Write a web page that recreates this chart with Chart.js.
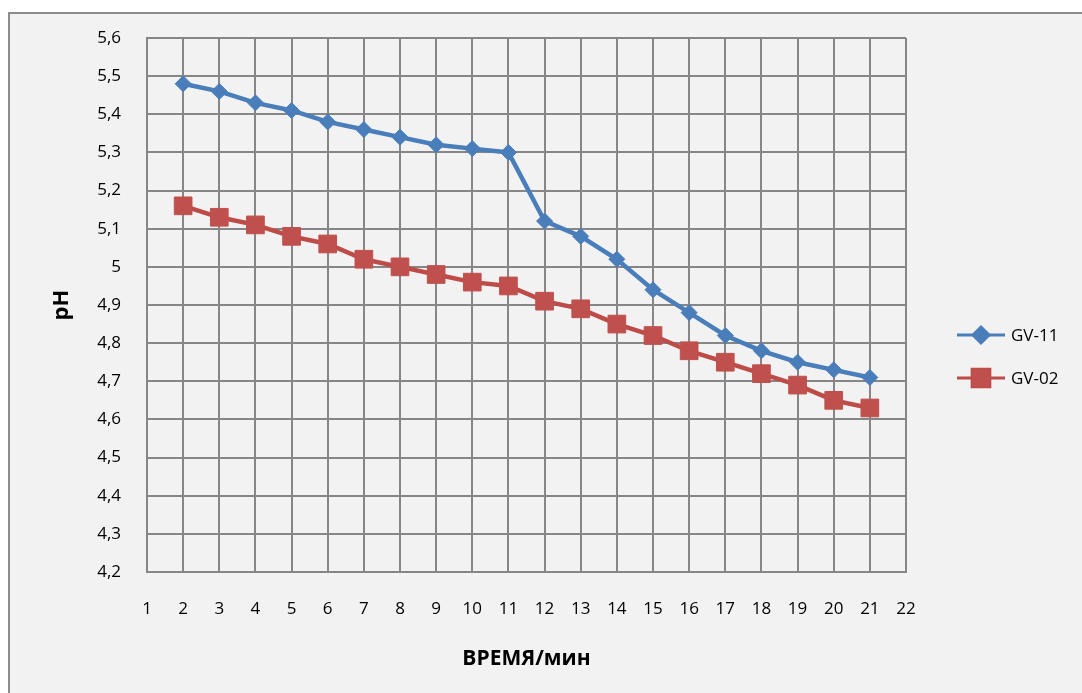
<!DOCTYPE html>
<html>
<head>
<meta charset="utf-8">
<script src="https://cdn.jsdelivr.net/npm/chart.js@4/dist/chart.umd.min.js"></script>
<style>
html,body{margin:0;padding:0;background:#ffffff;}
#wrap{position:relative;width:1082px;height:693px;}
</style>
</head>
<body>
<div id="wrap"><canvas id="c" width="1082" height="693"></canvas></div>
<script>
// ---- data ----
const times = [2,3,4,5,6,7,8,9,10,11,12,13,14,15,16,17,18,19,20,21];
const gv11 = [5.48,5.46,5.43,5.41,5.38,5.36,5.34,5.32,5.31,5.30,5.12,5.08,5.02,4.94,4.88,4.82,4.78,4.75,4.73,4.71];
const gv02 = [5.16,5.13,5.11,5.08,5.06,5.02,5.00,4.98,4.96,4.95,4.91,4.89,4.85,4.82,4.78,4.75,4.72,4.69,4.65,4.63];
const seriesNames = ['GV-11','GV-02'];
const xTitle = 'ВРЕМЯ/мин';
const yTitle = 'pH';
const xMin = 1, xMax = 22;
const yMin = 4.2, yMax = 5.6;

const FONT = "'Open Sans', 'Liberation Sans', sans-serif";
const BLUE = '#4a7ebb';
const RED = '#be4b48';
const GRID = '#868686';

const toPts = (xs, ys) => xs.map((x, i) => ({x: x, y: ys[i]}));

const bgPlugin = {
  id: 'bg',
  beforeDraw(chart) {
    const ctx = chart.ctx;
    ctx.save();
    ctx.fillStyle = '#ffffff';
    ctx.fillRect(0, 0, chart.width, chart.height);
    ctx.fillStyle = '#f2f2f2';
    ctx.fillRect(9, 13, chart.width, chart.height);
    ctx.strokeStyle = '#8c8c8c';
    ctx.lineWidth = 2;
    ctx.beginPath();
    ctx.moveTo(9, chart.height + 5);
    ctx.lineTo(9, 13);
    ctx.lineTo(chart.width + 5, 13);
    ctx.stroke();
    ctx.restore();
  }
};

const legendPlugin = {
  id: 'customLegend',
  afterDraw(chart) {
    const ctx = chart.ctx;
    const x0 = 957, x1 = 1005, tx = 1011;
    const ys = [335, 378];
    ctx.save();
    chart.data.datasets.forEach((ds, i) => {
      const y = ys[i];
      ctx.strokeStyle = ds.borderColor;
      ctx.lineWidth = 3;
      ctx.beginPath();
      ctx.moveTo(x0, y);
      ctx.lineTo(x1, y);
      ctx.stroke();
      Chart.helpers.drawPoint(ctx, {
        pointStyle: ds.pointStyle,
        radius: ds.pointRadius,
        borderWidth: 1,
        rotation: 0
      }, (x0 + x1) / 2, y);
      ctx.fillStyle = ds.pointBackgroundColor;
      ctx.fill();
      ctx.fillStyle = '#000000';
      ctx.font = '17px ' + FONT;
      ctx.textAlign = 'left';
      ctx.textBaseline = 'middle';
      ctx.fillText(ds.label, tx, y + 1);
    });
    ctx.restore();
  }
};

new Chart(document.getElementById('c'), {
  type: 'line',
  data: {
    datasets: [
      {
        label: seriesNames[0],
        data: toPts(times, gv11),
        borderColor: BLUE,
        backgroundColor: BLUE,
        pointBackgroundColor: BLUE,
        pointBorderColor: BLUE,
        borderWidth: 4.5,
        pointStyle: 'rectRot',
        pointRadius: 8,
        pointHoverRadius: 8,
        pointBorderWidth: 1,
        tension: 0
      },
      {
        label: seriesNames[1],
        data: toPts(times, gv02),
        borderColor: RED,
        backgroundColor: '#c0504d',
        pointBackgroundColor: '#c0504d',
        pointBorderColor: '#c0504d',
        borderWidth: 4.5,
        pointStyle: 'rect',
        pointRadius: 12.5,
        pointHoverRadius: 12.5,
        pointBorderWidth: 1,
        tension: 0
      }
    ]
  },
  options: {
    responsive: false,
    animation: false,
    devicePixelRatio: 1,
    layout: {padding: {left: 0, right: 176, top: 38, bottom: 0}},
    plugins: {
      legend: {display: false},
      tooltip: {enabled: false}
    },
    scales: {
      x: {
        type: 'linear',
        min: xMin,
        max: xMax,
        afterFit(s) { s.height = 121; },
        ticks: {
          stepSize: 1,
          autoSkip: false,
          maxRotation: 0,
          padding: 27,
          color: '#000000',
          font: {family: FONT, size: 17}
        },
        grid: {color: GRID, lineWidth: 2, drawTicks: false},
        border: {color: GRID, width: 2},
        title: {
          display: true,
          text: xTitle,
          color: '#000000',
          font: {family: FONT, size: 21, weight: 'bold'},
          padding: {top: 0, bottom: 21}
        }
      },
      y: {
        type: 'linear',
        min: yMin,
        max: yMax,
        afterFit(s) { s.width = 147; },
        ticks: {
          stepSize: 0.1,
          padding: 26,
          color: '#000000',
          font: {family: FONT, size: 17},
          callback: (v) => (Math.round(v * 10) / 10).toString().replace('.', ',')
        },
        grid: {color: GRID, lineWidth: 2, drawTicks: false},
        border: {color: GRID, width: 2},
        title: {
          display: true,
          text: yTitle,
          color: '#000000',
          font: {family: FONT, size: 22, weight: 'bold'},
          padding: {top: 49, bottom: 0}
        }
      }
    }
  },
  plugins: [bgPlugin, legendPlugin]
});
</script>
</body>
</html>
